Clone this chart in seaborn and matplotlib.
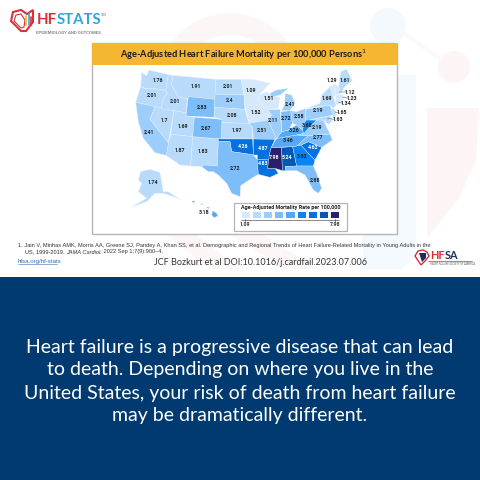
import numpy as np
import matplotlib
matplotlib.use("Agg")
import matplotlib.pyplot as plt
from matplotlib import font_manager
from matplotlib.colors import ListedColormap
from matplotlib.patches import Rectangle, Circle, Polygon, Wedge
import seaborn as sns

sns.set_theme(style="white")

states = ["WA","OR","CA","NV","ID","MT","WY","UT","AZ","NM","CO","ND","SD","NE","KS","OK","TX",
          "MN","IA","MO","AR","LA","WI","IL","MI","IN","OH","KY","TN","MS","AL","GA","FL","SC",
          "NC","VA","WV","PA","NY","ME","VT","NH","MA","CT","RI","NJ","DE","MD","AK","HI"]
rates = [1.76,2.01,2.41,1.7,2.01,1.91,2.83,1.69,1.87,1.83,2.67,2.01,2.4,2.08,1.97,4.26,2.72,
         1.09,1.52,2.51,4.87,4.83,1.51,2.11,2.41,2.72,2.58,3.26,3.46,7.98,5.24,3.82,2.88,4.62,
         2.77,2.19,3.68,2.19,1.69,1.61,1.29,1.12,1.23,1.34,1.34,1.65,1.63,1.63,1.74,3.18]
rate_edges = [1.55,2.1,2.6,2.9,3.55,4.2,5.0,7.0]
rate_colors = ["#D6E8FB","#B9DBFB","#9DCDFB","#7DBDF9","#54A8F7","#0A84F5","#0570E0","#0558B0","#2A1F6B"]
legend_ends = ["1.09","7.98"]

title = "Age-Adjusted Heart Failure Mortality per 100,000 Persons$^{1}$"
legend_title = "Age-Adjusted Mortality Rate per 100,000"
citation = ["1. Jain V, Minhas AMK, Morris AA, Greene SJ, Pandey A, Khan SS, et al. Demographic and Regional Trends of Heart Failure-Related Mortality in Young Adults in the",
            "US, 1999-2019. ", "JAMA Cardiol.", " 2022 Sep 1;7(9):900–4."]
message = ["Heart failure is a progressive disease that can lead",
           "to death. Depending on where you live in the",
           "United States, your risk of death from heart failure",
           "may be dramatically different."]

outlines = {
 "WA":[(125,97),(140,108),(147,90),(205,104),(197,152),(160,145),(140,147),(122,140)],
 "OR":[(122,140),(140,147),(160,145),(197,152),(201,160),(190,178),(183,206),(165,200),(107,187)],
 "CA":[(107,187),(165,200),(150,238),(205,308),(203,330),(198,346),(165,338),(130,295),(115,245)],
 "NV":[(165,200),(222,212),(205,308),(197,298),(150,238)],
 "ID":[(205,104),(218,106),(215,135),(235,170),(262,178),(258,218),(222,212),(183,206),(190,178),(201,160),(197,152)],
 "MT":[(218,106),(347,118),(345,178),(265,170),(262,178),(235,170),(215,135)],
 "WY":[(265,170),(345,178),(342,232),(258,228)],
 "UT":[(222,212),(258,218),(258,228),(283,232),(278,290),(212,283)],
 "AZ":[(212,283),(278,290),(272,378),(240,375),(198,346),(203,330),(205,308)],
 "NM":[(278,290),(355,297),(352,378),(310,375),(305,380),(272,378)],
 "CO":[(283,232),(366,238),(365,297),(278,290)],
 "ND":[(347,118),(423,118),(432,165),(345,163)],
 "SD":[(345,163),(432,165),(435,210),(420,207),(343,202)],
 "NE":[(343,202),(420,207),(435,210),(447,250),(366,248),(366,238),(342,232)],
 "KS":[(366,248),(447,250),(457,262),(458,297),(365,297)],
 "OK":[(355,297),(458,297),(460,345),(430,340),(395,335),(390,305),(355,305)],
 "TX":[(355,305),(390,305),(395,335),(430,340),(460,345),(472,358),(475,403),(455,415),(422,437),(420,470),(395,460),(380,430),(355,405),(340,395),(325,395),(305,380),(310,375),(352,378)],
 "MN":[(423,118),(460,118),(510,130),(477,165),(475,180),(490,195),(435,195),(432,165)],
 "IA":[(435,195),(505,195),(515,225),(505,240),(447,250)],
 "MO":[(447,250),(505,240),(515,265),(530,295),(520,298),(460,297),(458,262)],
 "AR":[(460,297),(525,298),(514,322),(508,345),(507,360),(472,358),(472,345),(460,345)],
 "LA":[(472,358),(507,360),(503,385),(525,385),(535,400),(510,412),(475,403)],
 "MS":[(514,322),(545,322),(547,392),(525,385),(503,385),(508,345)],
 "AL":[(545,322),(578,320),(590,378),(555,380),(558,392),(547,392)],
 "GA":[(578,320),(603,315),(625,340),(645,360),(640,378),(590,378)],
 "FL":[(555,380),(590,378),(640,378),(650,400),(665,445),(655,460),(640,450),(615,405),(590,392),(558,392)],
 "SC":[(603,315),(625,305),(665,322),(645,360),(625,340)],
 "NC":[(590,318),(612,298),(625,287),(690,282),(697,300),(665,322),(625,305),(603,315)],
 "TN":[(514,322),(525,303),(530,295),(590,285),(625,287),(612,298),(590,318),(578,320)],
 "KY":[(530,295),(545,275),(565,270),(590,255),(607,270),(612,280),(590,285)],
 "VA":[(590,285),(612,280),(625,265),(650,240),(670,240),(690,282),(625,287)],
 "WV":[(607,270),(612,250),(617,240),(630,240),(650,240),(625,265),(612,280)],
 "OH":[(572,212),(590,215),(617,205),(617,240),(607,270),(590,255),(577,250)],
 "IN":[(543,215),(572,212),(577,250),(565,270),(545,275)],
 "IL":[(505,210),(540,208),(545,275),(530,295),(515,265),(505,240),(515,225)],
 "WI":[(475,180),(477,165),(500,155),(515,165),(540,172),(535,205),(505,210),(490,195)],
 "MI":[(555,160),(575,165),(585,190),(570,212),(545,212),(555,190)],
 "PA":[(617,208),(690,195),(700,225),(690,227),(630,240),(617,240)],
 "NY":[(617,205),(660,190),(665,165),(690,140),(700,170),(708,195),(700,205),(690,195)],
 "ME":[(722,95),(740,88),(757,122),(735,140),(722,160),(716,140)],
 "VT":[(690,140),(705,132),(706,167),(700,170)],
 "NH":[(705,132),(716,140),(722,160),(706,167)],
 "MA":[(706,167),(722,162),(738,172),(708,178)],
 "CT":[(706,178),(722,176),(722,190),(708,195)],
 "RI":[(722,176),(730,175),(728,187),(722,190)],
 "NJ":[(700,205),(708,215),(705,235),(698,232),(700,225),(692,210)],
 "DE":[(690,227),(697,238),(695,245),(692,240)],
 "MD":[(630,240),(690,227),(695,245),(685,253),(670,240),(650,240)],
 "AK":[(122,395),(150,388),(180,397),(190,455),(205,455),(242,480),(225,472),(190,460),(165,460),(140,485),(95,500),(140,475),(115,455),(125,430),(115,420)],
 "HI":[(338,512),(350,520),(354,528),(342,533),(335,525)],
}
extra_parts = {"MI":[(510,160),(530,150),(565,145),(540,165),(515,170)],
               "HI":[(277,483),(284,483),(283,487),(278,487)]}
hi_small = [[(302,490),(308,492),(306,495)],[(318,500),(328,503),(326,506)]]

label_xy = {"WA":(173,121),"OR":(157,168),"CA":(148,279),"NV":(192,240),"ID":(225,185),"MT":(288,141),
 "WY":(306,202),"UT":(250,258),"AZ":(240,330),"NM":(310,335),"CO":(318,266),"ND":(385,141),"SD":(390,183),
 "NE":(395,228),"KS":(410,273),"OK":(430,320),"TX":(405,385),"MN":(453,153),"IA":(467,218),"MO":(485,272),
 "AR":(488,325),"LA":(488,370),"WI":(507,175),"IL":(518,243),"MI":(569,194),"IN":(557,237),"OH":(597,231),
 "KY":(582,273),"TN":(565,303),"MS":(523,353),"AL":(560,353),"GA":(607,350),"FL":(646,422),"SC":(640,323),
 "NC":(653,293),"VA":(652,263),"WV":(620,257),"PA":(653,213),"NY":(680,177),"ME":(735,122),"VT":(695,122),
 "NH":(751,158),"MA":(755,175),"CT":(739,191),"NJ":(727,218),"MD":(714,238),"AK":(160,429),"HI":(312,516)}
leaders = {"NH":((716,157),(738,157)),"MA":((728,172),(743,174)),"CT":((715,186),(727,190)),
           "NJ":((705,216),(716,218)),"MD":((682,235),(703,238))}

have = {f.name for f in font_manager.fontManager.ttflist}
narrow = "Liberation Sans Narrow" if "Liberation Sans Narrow" in have else "Roboto"
nscale = 1.0 if narrow != "Roboto" else 0.82

fig = plt.figure(figsize=(4.8,4.8), dpi=100, facecolor="white")
page = fig.add_axes([0,0,1,1]); page.set_xlim(0,480); page.set_ylim(480,0); page.axis("off")

def chain(ax, x, y, parts, **kw):
    """Write text pieces one after another on one baseline."""
    for s, extra in parts:
        t = ax.text(x, y, s, va="baseline", **kw, **extra)
        fig.canvas.draw()
        x = t.get_window_extent().transformed(ax.transData.inverted()).x1

# watermark
page.add_patch(Wedge((230,85),72,180,360,width=22,fc="#FDF6F6",ec="none"))
page.add_patch(Polygon([(363,75),(416,75),(416,255),(402,269),(363,269)],fc="#F5FAFE",ec="none"))
page.add_patch(Circle((388,26),18,fc="#F3F9FD",ec="none"))
page.add_patch(Circle((454,67),16,fc="#FDF5F5",ec="none"))
page.plot([402,442],[32,60],color="#FBF9F9",lw=3)
page.add_patch(Polygon([(427,108),(479,108),(476,160),(458,200),(427,238)],fc="#FDF5F5",ec="none"))
page.add_patch(Polygon([(165,234),(195,234),(240,269),(210,269)],fc="#FDF6F6",ec="none"))
page.add_patch(Polygon([(230,234),(262,234),(318,269),(285,269)],fc="#FDF6F6",ec="none"))

# chart box
page.add_patch(Rectangle((92,43),305,191,fc="white",ec="#B5B5B5",lw=1))
page.add_patch(Rectangle((92,43),305,22,fc="#F5B731",ec="none"))
page.text(244,54.5,title,ha="center",va="center",fontsize=6.65,fontweight="bold",family="Lato",color="#1A1A1A")

# map
m = fig.add_axes([100/480,1-240/480,300/480,200/480]); m.set_xlim(0,900); m.set_ylim(600,0); m.axis("off"); m.patch.set_alpha(0)
fill = {s: rate_colors[int(np.digitize(r, rate_edges))] for s,r in zip(states,rates)}
for s,pts in outlines.items():
    m.add_patch(Polygon(pts,fc=fill[s],ec="#EAF3FC",lw=0.25))
    if s in extra_parts:
        m.add_patch(Polygon(extra_parts[s],fc=fill[s],ec="none"))
for pts in hi_small:
    m.add_patch(Polygon(pts,fc=fill["HI"],ec="none"))
for s,r in zip(states,rates):
    if s in label_xy:
        c = "white" if r > 4 else "#222222"
        m.text(*label_xy[s],f"{r:g}",ha="center",va="center",fontsize=4.6*nscale,fontweight="bold",family=narrow,color=c)
for a,b in leaders.values():
    m.plot([a[0],b[0]],[a[1],b[1]],color="#555555",lw=0.35)

# legend
m.add_patch(Rectangle((403,488),337,84,fc="white",ec="#B5B5B5",lw=0.9))
m.text(571,503,legend_title,ha="center",va="center",fontsize=4.7*nscale,fontweight="bold",family=narrow,color="#222222")
lg = fig.add_axes([(100+421/3)/480,1-(40+538/3)/480,(298/3)/480,(27/3)/480])
sns.heatmap(np.arange(9).reshape(1,9),cmap=ListedColormap(rate_colors),cbar=False,linewidths=0.9,linecolor="white",
            xticklabels=False,yticklabels=False,ax=lg)
m.plot([423,717],[541,541],color="#333333",lw=0.4)
for x,t in zip([436,705],legend_ends):
    m.plot([x,x],[537,545],color="#333333",lw=0.4)
    m.text(x,555,t,ha="center",va="center",fontsize=4.6*nscale,fontweight="bold",family=narrow,color="#333333")

# citation
cf = dict(fontsize=4.1,family="Liberation Sans",color="#333333")
page.text(18,245.5,citation[0],va="center",**cf)
chain(page,25,253.5,[(citation[1],{}),(citation[2],{"style":"italic"}),(citation[3],{})],**cf)
page.text(18,261,"hfsa.org/hf-stats",fontsize=4.4,family="Liberation Sans",color="#2F6DB5",va="center")
page.plot([18,57],[264,264],color="#2F6DB5",lw=0.4)
page.text(260,262.5,"JCF Bozkurt et al DOI:10.1016/j.cardfail.2023.07.006",ha="center",va="center",fontsize=6.5,family="Lato",color="#333333")

# HFSTATS logo
page.add_patch(Polygon([(11,21),(13,12),(21,10),(27,14),(33,10),(33,22),(26,31),(21,31)],fc="white",ec="#D9303A",lw=1.5))
page.add_patch(Polygon([(14,21),(16,15),(21,14),(25,20),(24,27),(21,28)],fc="white",ec="#D9303A",lw=0.8))
for x,h,c in zip([26,28.5,31],[9,12,8],["#F5B731","#2AA7DC","#D9303A"]):
    page.plot([x,x],[25,25-h],color=c,lw=1.2)
chain(page,36.5,24.5,[("HF",{"color":"#D9303A"}),("STATS",{"color":"#2AA7DC"})],fontsize=10.7,fontweight="bold",family="Lato")
page.text(100.5,14.5,"SM",fontsize=2.8,color="#777777",va="center",family="Roboto")
page.text(36,33.5,"EPIDEMIOLOGY AND OUTCOMES",fontsize=3.2,fontweight="bold",family="Roboto",color="#888888",va="center")

# HFSA logo
page.add_patch(Polygon([(415,256),(418,251),(423,250),(427,252),(429,256),(425,261),(421,265)],fc="white",ec="#D9303A",lw=1))
page.add_patch(Polygon([(419,253),(426,253),(426,258),(422,262)],fc="#16325C",ec="none"))
chain(page,430,259,[("HF",{"color":"#D9303A"}),("SA",{"color":"#16325C"})],fontsize=7.8,fontweight="bold",family="Lato")
page.plot([428,472],[261,261],color="#D9303A",lw=0.5)
page.text(430,264.2,"HEART FAILURE SOCIETY OF AMERICA",fontsize=1.9,family="Roboto",color="#555555",va="center")

# navy message panel
page.add_patch(Rectangle((0,277),480,203,fc="#003A70",ec="none"))
for y,line in zip([348,370,393,415],message):
    page.text(240,y,line,ha="center",va="center",fontsize=14.0,family="Lato",color="white")

fig.savefig("out.png",dpi=100)
